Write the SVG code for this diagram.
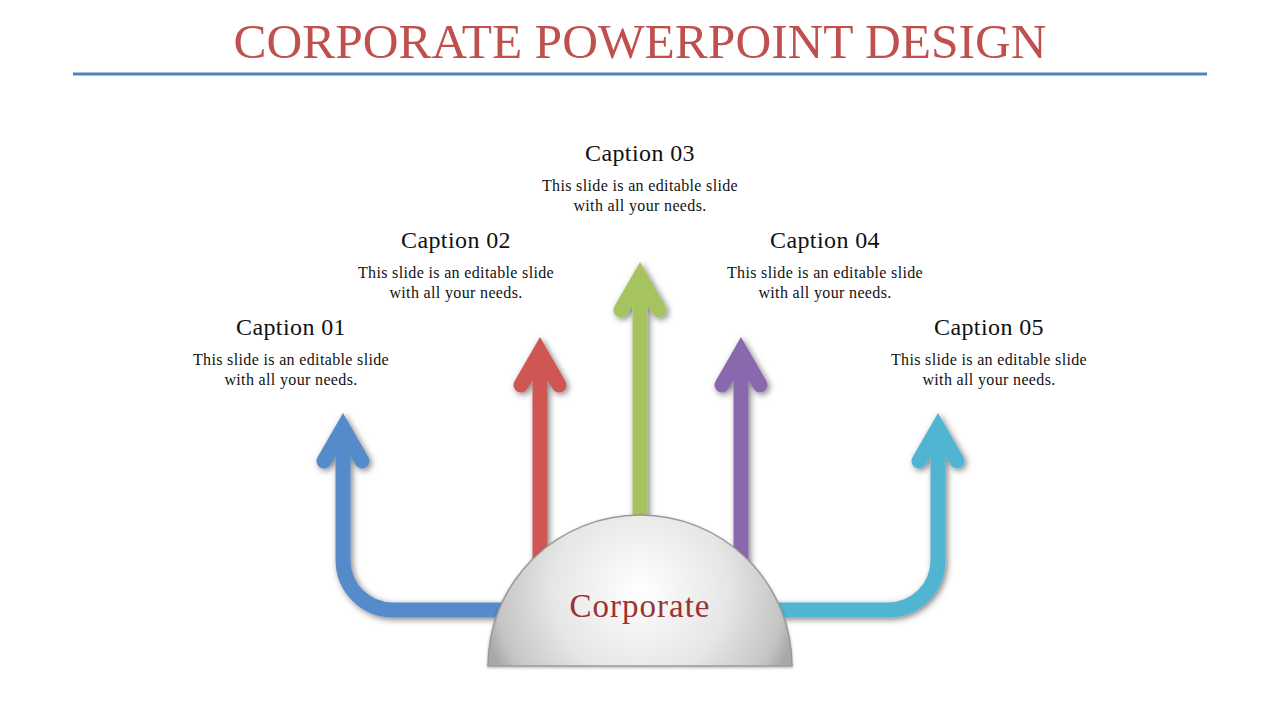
<svg xmlns="http://www.w3.org/2000/svg" width="1280" height="720" viewBox="0 0 1280 720">
<defs>
<filter id="sh" x="-50%" y="-50%" width="200%" height="200%">
<feDropShadow dx="2" dy="2" stdDeviation="3" flood-color="#000" flood-opacity="0.5"/>
</filter>
<filter id="dsh" x="-20%" y="-20%" width="140%" height="140%">
<feDropShadow dx="0" dy="1" stdDeviation="1.5" flood-color="#000" flood-opacity="0.3"/>
</filter>
<radialGradient id="dome" cx="640" cy="590" r="160" gradientUnits="userSpaceOnUse">
<stop offset="0" stop-color="#ffffff"/>
<stop offset="0.55" stop-color="#e6e6e6"/>
<stop offset="0.9" stop-color="#c4c4c4"/>
<stop offset="1" stop-color="#a8a8a8"/>
</radialGradient>
</defs>
<style>
.title{font-family:"Liberation Serif",serif;font-size:49.5px;fill:#C0504D;text-anchor:middle}
.cap{font-family:"Liberation Serif",serif;font-size:24px;letter-spacing:0.4px;fill:#111;text-anchor:middle}
.body{font-family:"Liberation Serif",serif;font-size:16px;letter-spacing:0.35px;fill:#111;text-anchor:middle}
.ar{fill:none;stroke-width:15;stroke-linecap:round;stroke-linejoin:miter;stroke-miterlimit:6}
</style>
<rect width="1280" height="720" fill="#fff"/>
<g id="title">
<text class="title" x="640" y="58">CORPORATE POWERPOINT DESIGN</text>
<line x1="73" y1="74" x2="1207" y2="74" stroke="#4F81BD" stroke-width="3"/>
</g>
<g id="connectors" filter="url(#sh)">
<path class="ar" stroke="#558ACB" d="M343,428 V560 A50,50 0 0 0 393,610 H510 M324,461 L343,428 L362,461"/>
<path class="ar" stroke="#CF5753" d="M540,352 V580 M521,385 L540,352 L559,385"/>
<path class="ar" stroke="#A5C45F" d="M640,277 V540 M621,310 L640,277 L659,310"/>
<path class="ar" stroke="#8968AD" d="M741,352 V580 M722,385 L741,352 L760,385"/>
<path class="ar" stroke="#4FB5D3" d="M938,428 V560 A50,50 0 0 1 888,610 H770 M919,461 L938,428 L957,461"/>
</g>
<g id="center">
<path d="M488,666 A152,151 0 0 1 792,666 Z" fill="url(#dome)" stroke="#9a9a9a" stroke-width="1.5" filter="url(#dsh)"/>
<text x="640" y="617" font-family="Liberation Serif,serif" font-size="33" letter-spacing="1" fill="#9B3432" text-anchor="middle">Corporate</text>
</g>
<g id="caption1">
<text class="cap" x="291" y="335">Caption 01</text>
<text class="body" x="291" y="365">This slide is an editable slide</text>
<text class="body" x="291" y="385">with all your needs.</text>
</g>
<g id="caption2">
<text class="cap" x="456" y="248">Caption 02</text>
<text class="body" x="456" y="278">This slide is an editable slide</text>
<text class="body" x="456" y="298">with all your needs.</text>
</g>
<g id="caption3">
<text class="cap" x="640" y="161">Caption 03</text>
<text class="body" x="640" y="191">This slide is an editable slide</text>
<text class="body" x="640" y="211">with all your needs.</text>
</g>
<g id="caption4">
<text class="cap" x="825" y="248">Caption 04</text>
<text class="body" x="825" y="278">This slide is an editable slide</text>
<text class="body" x="825" y="298">with all your needs.</text>
</g>
<g id="caption5">
<text class="cap" x="989" y="335">Caption 05</text>
<text class="body" x="989" y="365">This slide is an editable slide</text>
<text class="body" x="989" y="385">with all your needs.</text>
</g>
</svg>
